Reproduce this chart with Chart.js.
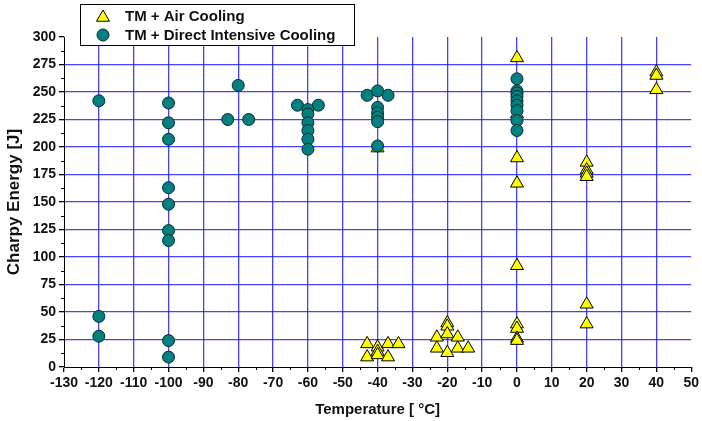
<!DOCTYPE html>
<html>
<head>
<meta charset="utf-8">
<script src="https://cdn.jsdelivr.net/npm/chart.js@4/dist/chart.umd.min.js"></script>
<style>
  html, body { margin: 0; padding: 0; background: #ffffff; }
  #wrap { width: 702px; height: 421px; position: relative; }
</style>
</head>
<body>
<div id="wrap"><canvas id="c" width="702" height="421"></canvas></div>
<script>
// Charpy impact energy vs. test temperature for two processing routes
const seriesNames = ['TM + Air Cooling', 'TM + Direct Intensive Cooling'];

// TM + Air Cooling
const airTemp   = [-43, -43, -40, -40, -40, -40, -37, -37, -34,
                   -23, -23, -20, -20, -20, -20, -17, -17, -14,
                   0, 0, 0, 0, 0, 0, 0, 0, 0,
                   20, 20, 20, 20, 20, 20,
                   40, 40, 40];
const airEnergy = [21, 9, 18, 14, 11, 199, 21, 9, 21,
                   27, 17, 40, 37, 30, 13, 27, 17, 17,
                   281, 230, 190, 167, 92, 39, 35, 26, 24,
                   186, 179, 176, 173, 57, 39,
                   268, 265, 252];

// TM + Direct Intensive Cooling
const dicTemp   = [-120, -120, -120,
                   -100, -100, -100, -100, -100, -100, -100, -100, -100,
                   -83, -80, -77,
                   -63, -57, -60, -60, -60, -60, -60, -60,
                   -43, -37, -40, -40, -40, -40, -40, -40,
                   0, 0, 0, 0, 0, 0, 0, 0, 0];
const dicEnergy = [242, 46, 28,
                   240, 222, 207, 163, 148, 124, 115, 24, 9,
                   225, 256, 225,
                   238, 238, 234, 230, 222, 215, 207, 198,
                   247, 247, 251, 236, 231, 227, 223, 201,
                   262, 251, 249, 246, 242, 238, 233, 224, 215];

// Axis ranges and tick spacing
const xRange = { min: -130, max: 50, step: 10, minor: 5 };
const yRange = { min: 0, max: 300, step: 25, minor: 12.5 };

const FONT = '"Liberation Sans", Arial, Helvetica, sans-serif';
const GRID_BLUE = 'rgba(20,20,255,0.8)';
const AIR_FILL = '#ffff00';
const DIC_FILL = '#008080';

const toPoints = (xs, ys) => xs.map((x, i) => ({ x: x, y: ys[i] }));

// Minor ticks on the outer side of the left and bottom axes
const minorTicks = {
  id: 'minorTicks',
  afterDraw(chart) {
    const ctx = chart.ctx;
    const xs = chart.scales.x, ys = chart.scales.y;
    const area = chart.chartArea;
    ctx.save();
    ctx.strokeStyle = '#000';
    ctx.lineWidth = 1;
    ctx.beginPath();
    for (let v = xRange.min + xRange.minor; v < xRange.max; v += xRange.step) {
      const px = Math.round(xs.getPixelForValue(v)) + 0.5;
      ctx.moveTo(px, area.bottom);
      ctx.lineTo(px, area.bottom + 3);
    }
    for (let v = yRange.min + yRange.minor; v < yRange.max; v += yRange.step) {
      const py = Math.round(ys.getPixelForValue(v)) + 0.5;
      ctx.moveTo(area.left, py);
      ctx.lineTo(area.left - 3, py);
    }
    ctx.stroke();
    ctx.restore();
  }
};

// Boxed legend in the upper-left corner
const boxedLegend = {
  id: 'boxedLegend',
  afterDraw(chart) {
    const ctx = chart.ctx;
    const box = { x: 80.5, y: 4.5, w: 274, h: 41 };
    ctx.save();
    ctx.fillStyle = '#ffffff';
    ctx.fillRect(box.x, box.y, box.w, box.h);
    ctx.strokeStyle = '#000';
    ctx.lineWidth = 1;
    ctx.strokeRect(box.x, box.y, box.w, box.h);

    const rows = [16, 35];
    const mx = 103;
    chart.data.datasets.forEach((ds, i) => {
      const y = rows[i];
      ctx.fillStyle = ds.backgroundColor;
      ctx.strokeStyle = ds.borderColor;
      ctx.lineWidth = ds.borderWidth;
      ctx.beginPath();
      if (ds.pointStyle === 'triangle') {
        const r = ds.pointRadius, cy = y + 1.5;
        ctx.moveTo(mx, cy - r);
        ctx.lineTo(mx + r * Math.sin(2 * Math.PI / 3), cy - r * Math.cos(2 * Math.PI / 3));
        ctx.lineTo(mx + r * Math.sin(4 * Math.PI / 3), cy - r * Math.cos(4 * Math.PI / 3));
        ctx.closePath();
      } else {
        ctx.arc(mx, y, ds.pointRadius, 0, Math.PI * 2);
      }
      ctx.fill();
      ctx.stroke();

      ctx.fillStyle = '#111';
      ctx.font = 'bold 15px ' + FONT;
      ctx.textBaseline = 'middle';
      ctx.textAlign = 'left';
      ctx.fillText(ds.label, 125, y + 0.5);
    });
    ctx.restore();
  }
};

const blankAtEnds = (lo, hi) => (c) =>
  (c.tick && (c.tick.value === lo || c.tick.value === hi)) ? 'rgba(0,0,0,0)' : GRID_BLUE;

new Chart(document.getElementById('c'), {
  type: 'scatter',
  data: {
    datasets: [
      {
        label: seriesNames[0],
        data: toPoints(airTemp, airEnergy),
        pointStyle: 'triangle',
        pointRadius: 7.5,
        pointHoverRadius: 7.5,
        backgroundColor: AIR_FILL,
        borderColor: '#000',
        borderWidth: 1,
        order: 1
      },
      {
        label: seriesNames[1],
        data: toPoints(dicTemp, dicEnergy),
        pointStyle: 'circle',
        pointRadius: 6,
        pointHoverRadius: 6,
        backgroundColor: DIC_FILL,
        borderColor: '#0a2a2a',
        borderWidth: 1,
        order: 0
      }
    ]
  },
  options: {
    responsive: false,
    animation: false,
    devicePixelRatio: 1,
    layout: { padding: { top: 37, right: 0, left: 0, bottom: 2 } },
    plugins: {
      legend: { display: false },
      tooltip: { enabled: false }
    },
    scales: {
      x: {
        type: 'linear',
        min: xRange.min,
        max: xRange.max,
        afterFit(s) { s.height = 52; },
        ticks: {
          stepSize: xRange.step,
          color: '#111',
          padding: 3,
          maxRotation: 0,
          autoSkip: false,
          font: { family: FONT, size: 14, weight: 'bold' }
        },
        grid: {
          color: blankAtEnds(xRange.min, xRange.max),
          lineWidth: 1.3,
          drawTicks: true,
          tickLength: 5,
          tickColor: '#000'
        },
        border: { display: true, color: '#000', width: 1 },
        title: {
          display: true,
          text: 'Temperature [ °C]',
          color: '#111',
          padding: { top: 0, bottom: 0 },
          font: { family: FONT, size: 15, weight: 'bold' }
        }
      },
      y: {
        type: 'linear',
        min: yRange.min,
        max: yRange.max,
        afterFit(s) { s.width = 64; },
        ticks: {
          stepSize: yRange.step,
          color: '#111',
          padding: 3,
          autoSkip: false,
          font: { family: FONT, size: 14, weight: 'bold' }
        },
        grid: {
          color: blankAtEnds(yRange.min, yRange.max),
          lineWidth: 1.3,
          drawTicks: true,
          tickLength: 5,
          tickColor: '#000'
        },
        border: { display: true, color: '#000', width: 1 },
        title: {
          display: true,
          text: 'Charpy Energy [J]',
          color: '#111',
          padding: { top: 4, bottom: 0 },
          font: { family: FONT, size: 17, weight: 'bold' }
        }
      }
    }
  },
  plugins: [minorTicks, boxedLegend]
});
</script>
</body>
</html>
